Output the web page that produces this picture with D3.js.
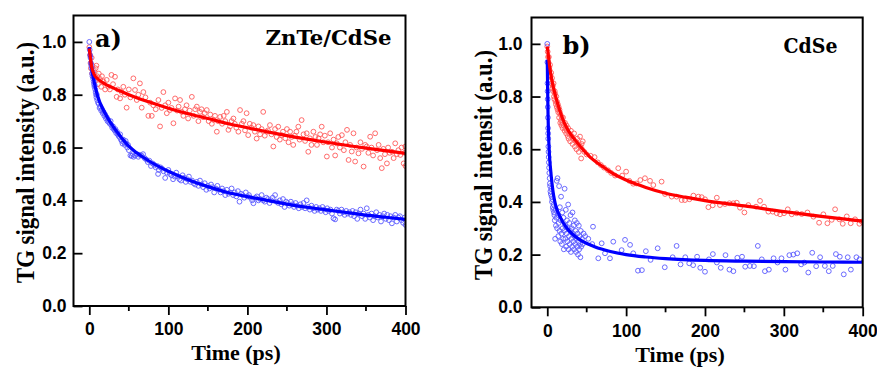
<!DOCTYPE html>
<html><head><meta charset="utf-8">
<script src="https://cdn.jsdelivr.net/npm/d3@7"></script>
<style>body{margin:0;background:#fff}svg{display:block}</style>
</head><body>
<svg id="c" width="877" height="369"></svg>
<script>
// ---------------- data ----------------
const yTicks = [0, 0.2, 0.4, 0.6, 0.8, 1.0];
const xTicksMajor = [0, 100, 200, 300, 400];
const xTicksMinor = [50, 150, 250, 350];
const xTitle = "Time (ps)";
const yTitles = ["TG signal intensity (a.u.)", "TG signal intensit (a.u.)"];
const panelLabels = ["a)", "b)"];
const sampleNames = ["ZnTe/CdSe", "CdSe"];

// panel a: ZnTe/CdSe
const redA = [[0,.98],[1,.95],[1.5,.92],[2,.90],[3,.94],[3.5,.88],[4,.91],[5,.87],[6,.89],[7,.85],[8,.90],[9,.91],[10,.87],[11,.84],[12,.88],[13.5,.86],[15,.83],[16,.87],[18,.85],[20,.82],[22,.856],[24,.83],[26,.82],[28,.875],[30,.84],[32.5,.868],[34.6,.792],[36,.82],[38.9,.786],[41,.81],[43,.83],[45,.80],[47.2,.751],[50,.82],[52,.79],[55.7,.862],[57.8,.818],[60,.78],[62,.80],[64,.843],[66.3,.751],[68.4,.81],[71,.79],[74.7,.72],[77,.77],[79,.72],[81,.76],[84,.745],[87.4,.78],[89.5,.68],[91.5,.75],[93.7,.81],[96,.76],[98,.73],[100,.77],[102,.742],[104,.75],[106.4,.692],[108.5,.786],[111,.74],[113,.755],[114.8,.78],[117,.735],[119,.72],[121,.745],[123,.76],[125,.71],[127,.74],[129.7,.792],[132,.72],[134,.745],[136,.755],[138,.70],[140,.735],[142,.745],[144,.715],[146,.73],[148.6,.742],[151,.70],[153,.725],[155,.69],[157,.705],[159,.72],[161.3,.66],[163,.70],[165.5,.716],[168,.69],[170,.72],[172,.70],[174,.735],[176,.667],[178,.68],[180,.70],[182.3,.71],[184,.69],[186,.675],[188.6,.66],[190.7,.742],[193,.69],[195,.70],[197,.665],[199,.73],[201,.647],[203,.69],[205,.675],[207.5,.685],[209.5,.66],[211.7,.634],[214,.68],[216,.65],[218,.67],[220,.735],[222,.645],[224.3,.66],[226,.665],[228.5,.685],[230.5,.65],[232.8,.604],[235,.67],[237,.64],[239,.679],[241,.63],[243.3,.647],[245,.66],[248,.635],[250,.67],[252,.62],[254,.66],[256,.64],[258,.61],[260,.645],[262,.66],[264.4,.679],[266,.63],[268.6,.704],[271,.65],[273,.625],[275,.654],[277,.584],[279,.635],[281,.61],[283.5,.66],[286,.64],[288,.61],[290,.635],[292,.65],[294,.679],[296,.62],[298,.645],[300.5,.566],[302,.62],[304.7,.654],[307,.60],[309,.63],[311,.57],[313,.616],[315,.64],[317,.60],[319.5,.647],[322,.59],[324,.62],[326,.667],[328,.553],[330,.61],[332,.585],[334.2,.654],[336.3,.547],[338,.60],[340.5,.578],[343,.62],[345,.595],[347,.528],[349,.61],[351,.604],[353,.58],[355.3,.641],[357,.60],[359,.57],[361.6,.654],[364,.59],[366,.61],[368,.56],[370,.522],[372,.595],[374,.575],[376.5,.54],[378,.60],[380,.58],[383,.584],[385,.56],[387,.616],[389,.575],[391,.59],[393.5,.572],[395,.60],[397.7,.54],[399,.58],[399.8,.604],[400,.53]];
const blueA = [[0,1.0],[0.5,.97],[1,.95],[1.5,.94],[2,.92],[2.5,.91],[3,.90],[3.5,.88],[4,.87],[4.5,.885],[5,.86],[5.5,.85],[6,.84],[6.5,.83],[7,.835],[7.5,.82],[8,.81],[8.5,.80],[9,.79],[9.5,.80],[10,.78],[11,.77],[12,.765],[13,.75],[14,.755],[15,.74],[16,.745],[17,.73],[18,.735],[19,.72],[20,.725],[21,.71],[22,.715],[23,.70],[24,.705],[25,.695],[26,.69],[27,.70],[28,.685],[29,.675],[30,.68],[31,.67],[32,.665],[33,.67],[34,.655],[35,.66],[36,.65],[37,.645],[38,.64],[39,.65],[40,.63],[41,.625],[42,.615],[43,.63],[44,.62],[45,.61],[46,.625],[47,.615],[48,.60],[49,.61],[50,.59],[52,.57],[53.6,.568],[55,.575],[56,.565],[58,.57],[60,.575],[62,.565],[64,.572],[66,.57],[68,.575],[70,.56],[72,.555],[74,.545],[76,.55],[78,.53],[80,.54],[82,.535],[84,.525],[86,.53],[87,.50],[88,.515],[90,.525],[92,.52],[94,.51],[96,.485],[98,.505],[100,.515],[102,.50],[104,.495],[106,.48],[108,.49],[110,.505],[112,.49],[114,.48],[116,.475],[118,.495],[120,.485],[122,.47],[124,.48],[126,.49],[128,.47],[130,.475],[132,.465],[134,.46],[136,.47],[138,.455],[140,.475],[142,.46],[144,.45],[146,.465],[148,.44],[150,.455],[152,.445],[154,.46],[156,.45],[158,.43],[160,.445],[162,.455],[164,.44],[166,.43],[168,.445],[170,.435],[172,.42],[174,.44],[176,.425],[178,.43],[180,.445],[182,.42],[184,.43],[186,.415],[188,.435],[190,.395],[192,.425],[194,.42],[196,.41],[198,.43],[200,.415],[202,.42],[204,.41],[206,.40],[207.6,.389],[210,.41],[212,.415],[214,.40],[216,.405],[218,.42],[220,.40],[222,.395],[224,.41],[226,.405],[228,.39],[230,.40],[232,.41],[235,.42],[237,.395],[239,.39],[241,.40],[243,.385],[245,.405],[247,.375],[249,.395],[251,.39],[253,.38],[255,.395],[257,.385],[259,.375],[261,.39],[263,.38],[265,.37],[267,.385],[269,.375],[271,.39],[273,.37],[275,.40],[277,.375],[279,.365],[281,.38],[283,.37],[285,.36],[287,.375],[289,.365],[291,.37],[293,.36],[295,.375],[297,.365],[299,.355],[301,.37],[303,.36],[305,.365],[307,.35],[308.9,.332],[311,.328],[313,.365],[315,.36],[317,.35],[319,.365],[321,.355],[323,.345],[325,.36],[327,.35],[329,.355],[331,.345],[333,.36],[335,.34],[337,.355],[339,.33],[341,.35],[343,.365],[345,.34],[347,.35],[349,.33],[351,.37],[353,.345],[355,.335],[357,.35],[359,.325],[361,.34],[363,.355],[365,.335],[367,.345],[369,.32],[371,.34],[373,.35],[375,.33],[377,.345],[379,.325],[381,.34],[382.8,.313],[385,.335],[387,.345],[389,.32],[391,.335],[393,.34],[395,.325],[397,.315],[399,.335],[400,.307]];
const redAFit = [[0,.975],[1,.95],[2,.925],[3,.905],[5,.885],[7,.872],[10,.862],[15,.85],[20,.84],[30,.826],[40,.813],[50,.80],[75,.773],[100,.749],[125,.728],[150,.71],[175,.691],[200,.675],[250,.645],[300,.62],[350,.598],[400,.578]];
const blueAFit = [[0,.98],[2,.92],[5,.865],[10,.80],[20,.73],[30,.68],[40,.64],[50,.605],[60,.58],[75,.55],[100,.51],[125,.478],[150,.452],[175,.43],[200,.414],[225,.40],[250,.386],[275,.374],[300,.364],[325,.354],[350,.344],[375,.336],[400,.328]];

// panel b: CdSe
const redB = [[0,.99],[0.5,.97],[1,.95],[1.5,.93],[2,.95],[2.5,.91],[3,.90],[3.5,.92],[4,.88],[4.5,.86],[5,.89],[5.5,.85],[6,.87],[6.5,.83],[7,.84],[7.5,.82],[8,.85],[8.5,.80],[9,.79],[9.5,.82],[10,.81],[10.5,.78],[11,.77],[11.5,.80],[12,.76],[12.5,.78],[13,.75],[13.5,.77],[14,.74],[14.5,.76],[15,.72],[15.5,.75],[16,.74],[16.5,.70],[17,.73],[17.5,.71],[18,.69],[18.5,.72],[19,.70],[19.5,.68],[20,.72],[21,.69],[22,.67],[22.5,.70],[23,.68],[24,.66],[24.5,.69],[25,.67],[26,.65],[26.5,.68],[27,.64],[28,.66],[29,.63],[30,.67],[31,.65],[32,.62],[33,.64],[34,.66],[35,.61],[36,.63],[37,.60],[38,.64],[39,.62],[40,.59],[41.5,.648],[42,.61],[43,.565],[43.6,.62],[44,.60],[45,.63],[47,.59],[50,.58],[55,.575],[60,.57],[64,.55],[68,.54],[72,.53],[77,.52],[81,.51],[86,.50],[90,.528],[95,.50],[100,.515],[104,.48],[109,.469],[113,.47],[118,.483],[123.9,.49],[130.3,.48],[134.5,.464],[145,.477],[149.3,.43],[157.8,.42],[164,.42],[170.4,.407],[174.6,.407],[180.2,.41],[185.3,.424],[191.6,.42],[195.8,.418],[200,.41],[204.3,.38],[209.8,.387],[215,.416],[219,.388],[225.4,.392],[231,.395],[236,.395],[240.3,.397],[244.4,.378],[250,.36],[255,.388],[264.7,.382],[269.8,.404],[274.9,.382],[280.4,.363],[285.9,.363],[291,.357],[295.2,.353],[300.3,.357],[305,.372],[310,.353],[316.3,.357],[322.7,.354],[329.9,.36],[337.5,.344],[344.7,.321],[350.1,.353],[355.2,.319],[360.7,.332],[365,.372],[370.4,.334],[374.7,.317],[379.8,.345],[384.8,.319],[390.3,.334],[395.8,.317],[398.8,.325]];
const blueB = [[0,1.0],[0.2,.93],[0.3,.85],[0.4,.82],[0.5,.79],[0.6,.76],[0.8,.72],[1,.68],[1.1,.66],[1.2,.64],[1.4,.61],[1.6,.59],[1.8,.57],[2,.55],[2.3,.53],[2.6,.51],[3,.49],[3.3,.47],[3.6,.46],[4,.44],[4.5,.43],[5,.45],[5.5,.42],[6,.40],[6.5,.41],[7,.38],[7.5,.37],[8,.39],[8.5,.36],[9,.35],[9.5,.33],[10,.26],[10.5,.37],[11,.31],[11.5,.34],[12,.48],[12.5,.30],[13,.49],[13.5,.35],[14,.27],[14.5,.32],[15,.46],[15.5,.29],[16,.38],[16.5,.25],[17,.33],[17.5,.42],[18,.28],[18.5,.24],[19,.36],[19.5,.30],[20,.26],[20.5,.34],[21,.22],[21.5,.29],[22,.45],[22.5,.31],[23,.26],[23.5,.37],[24,.23],[24.5,.28],[25,.33],[25.5,.25],[26,.30],[26.5,.39],[27,.22],[27.5,.27],[28,.32],[28.5,.24],[29,.29],[29.5,.35],[30,.21],[30.5,.26],[31,.30],[31.5,.23],[32,.36],[32.5,.28],[33,.25],[33.5,.31],[34,.22],[34.5,.27],[35,.33],[35.5,.24],[36,.29],[36.5,.21],[37,.26],[37.5,.32],[38,.23],[38.5,.28],[39,.20],[39.5,.25],[40,.31],[40.5,.22],[41,.27],[41.5,.24],[42,.19],[42.5,.29],[43,.23],[44,.26],[45,.24],[46,.28],[48,.27],[52,.26],[57,.24],[58,.306],[64.7,.186],[69,.243],[73.2,.205],[79.5,.186],[83.7,.249],[94.3,.217],[98.6,.256],[105,.237],[109,.205],[115,.139],[120,.141],[125,.213],[131,.18],[140,.224],[149,.152],[159,.19],[164,.233],[169,.163],[175,.19],[180,.167],[185,.16],[190,.192],[194,.15],[200,.135],[205,.182],[210,.202],[215,.17],[220,.15],[226,.198],[231,.143],[236,.137],[241,.188],[247,.192],[251,.154],[257,.157],[262,.156],[267,.233],[272,.182],[276,.137],[281,.143],[287,.186],[292,.17],[297,.186],[302,.143],[307,.198],[312,.2],[317,.205],[322,.163],[326,.17],[331,.132],[336,.207],[341,.156],[346,.19],[352,.157],[357,.137],[362,.157],[366,.202],[371,.192],[376,.125],[381,.19],[385,.143],[392,.19],[396,.182]];
const redBFit = [[0,.99],[1,.965],[2,.94],[3,.915],[5,.875],[7,.845],[10,.808],[15,.755],[20,.712],[25,.68],[30,.655],[38,.625],[45,.60],[55,.568],[70,.535],[85,.505],[100,.483],[125,.455],[150,.433],[175,.418],[200,.405],[250,.385],[300,.363],[350,.344],[400,.327]];
const blueBFit = [[0,.94],[0.5,.82],[1,.73],[2,.625],[3,.565],[4,.53],[6,.47],[8,.425],[10,.395],[13,.365],[16,.345],[20,.322],[27,.293],[35,.27],[45,.25],[60,.23],[80,.212],[100,.2],[125,.191],[150,.185],[200,.178],[250,.175],[300,.173],[350,.172],[400,.171]];

// ---------------- layout ----------------
const panels = [
  {x0:73.5, x1:405.5, y0:15.5, y1:306, red:redA, blue:blueA, redFit:redAFit, blueFit:blueAFit,
   label:{x:95, y:47}, name:{x:391.5, y:45, len:126}, ytitle:{x:34, y:162.5, len:241}, xtitle:{x:236, y:360}, yLabGap:7},
  {x0:531.5, x1:862.7, y0:17.5, y1:307.3, red:redB, blue:blueB, redFit:redBFit, blueFit:blueBFit,
   label:{x:562.5, y:54}, name:{x:837.5, y:53, len:54}, ytitle:{x:492, y:165, len:230}, xtitle:{x:680, y:362}, yLabGap:9}
];
const svg = d3.select("#c");
const RED_PT = "#ff5a5a", BLUE_PT = "#5a5aff";

panels.forEach((p, i) => {
  const x = d3.scaleLinear().domain([-20, 400]).range([p.x0, p.x1]);
  const y = d3.scaleLinear().domain([0, 1.1]).range([p.y1, p.y0]);
  const g = svg.append("g");
  const cid = "clip" + i;
  g.append("clipPath").attr("id", cid).append("rect")
    .attr("x", p.x0).attr("y", p.y0).attr("width", p.x1 - p.x0).attr("height", p.y1 - p.y0);
  const plot = g.append("g").attr("clip-path", `url(#${cid})`);

  [[p.red, RED_PT], [p.blue, BLUE_PT]].forEach(([data, col]) => {
    plot.append("g").selectAll("circle").data(data).join("circle")
      .attr("cx", d => x(d[0])).attr("cy", d => y(d[1])).attr("r", 2.4)
      .attr("fill", "none").attr("stroke", col).attr("stroke-width", 0.9);
  });
  const line = d3.line().x(d => x(d[0])).y(d => y(d[1])).curve(d3.curveMonotoneX);
  plot.append("path").datum(p.blueFit).attr("d", line).attr("fill", "none")
    .attr("stroke", "#0000ff").attr("stroke-width", 3.2);
  plot.append("path").datum(p.redFit).attr("d", line).attr("fill", "none")
    .attr("stroke", "#ff0000").attr("stroke-width", 3.2);

  // x axis (ticks outward)
  const xa = g.append("g").attr("transform", `translate(0,${p.y1})`)
    .call(d3.axisBottom(x).tickValues(xTicksMajor).tickSize(9).tickPadding(8).tickFormat(d3.format("d")));
  xa.select(".domain").remove();
  xa.selectAll("line").attr("stroke", "#000").attr("stroke-width", 1.8);
  xa.selectAll("text").attr("font-family", "'Liberation Sans', Arial, sans-serif")
    .attr("font-weight", "bold").attr("font-size", 17.5).attr("fill", "#000");
  g.append("g").selectAll("line").data(xTicksMinor).join("line")
    .attr("x1", d => x(d)).attr("x2", d => x(d)).attr("y1", p.y1).attr("y2", p.y1 + 5)
    .attr("stroke", "#000").attr("stroke-width", 1.8);

  // y axis (ticks inward)
  const ya = g.append("g").attr("transform", `translate(${p.x0},0)`)
    .call(d3.axisLeft(y).tickValues(yTicks).tickSize(-9).tickPadding(p.yLabGap).tickFormat(d3.format(".1f")));
  ya.select(".domain").remove();
  ya.selectAll("line").attr("stroke", "#000").attr("stroke-width", 1.8);
  ya.selectAll("text").attr("font-family", "'Liberation Sans', Arial, sans-serif")
    .attr("font-weight", "bold").attr("font-size", 17.5).attr("fill", "#000")
    .attr("x", -p.yLabGap);

  // frame
  g.append("rect").attr("x", p.x0).attr("y", p.y0).attr("width", p.x1 - p.x0).attr("height", p.y1 - p.y0)
    .attr("fill", "none").attr("stroke", "#000").attr("stroke-width", 2);

  // titles
  g.append("text").attr("x", p.xtitle.x).attr("y", p.xtitle.y).attr("text-anchor", "middle")
    .attr("font-family", "'Liberation Serif', 'Times New Roman', serif").attr("font-weight", "bold")
    .attr("font-size", 22).text(xTitle);
  g.append("text").attr("transform", `translate(${p.ytitle.x},${p.ytitle.y}) rotate(-90)`)
    .attr("text-anchor", "middle").attr("textLength", p.ytitle.len).attr("lengthAdjust", "spacingAndGlyphs")
    .attr("font-family", "'Liberation Serif', 'Times New Roman', serif").attr("font-weight", "bold")
    .attr("font-size", 25).text(yTitles[i]);
  g.append("text").attr("x", p.label.x).attr("y", p.label.y)
    .attr("font-family", "'DejaVu Serif', serif").attr("font-weight", "bold")
    .attr("font-size", 24).text(panelLabels[i]);
  g.append("text").attr("x", p.name.x).attr("y", p.name.y).attr("text-anchor", "end")
    .attr("textLength", p.name.len).attr("lengthAdjust", "spacingAndGlyphs")
    .attr("font-family", "'DejaVu Serif', serif").attr("font-weight", "bold")
    .attr("font-size", 20).text(sampleNames[i]);
});
</script>
</body></html>
